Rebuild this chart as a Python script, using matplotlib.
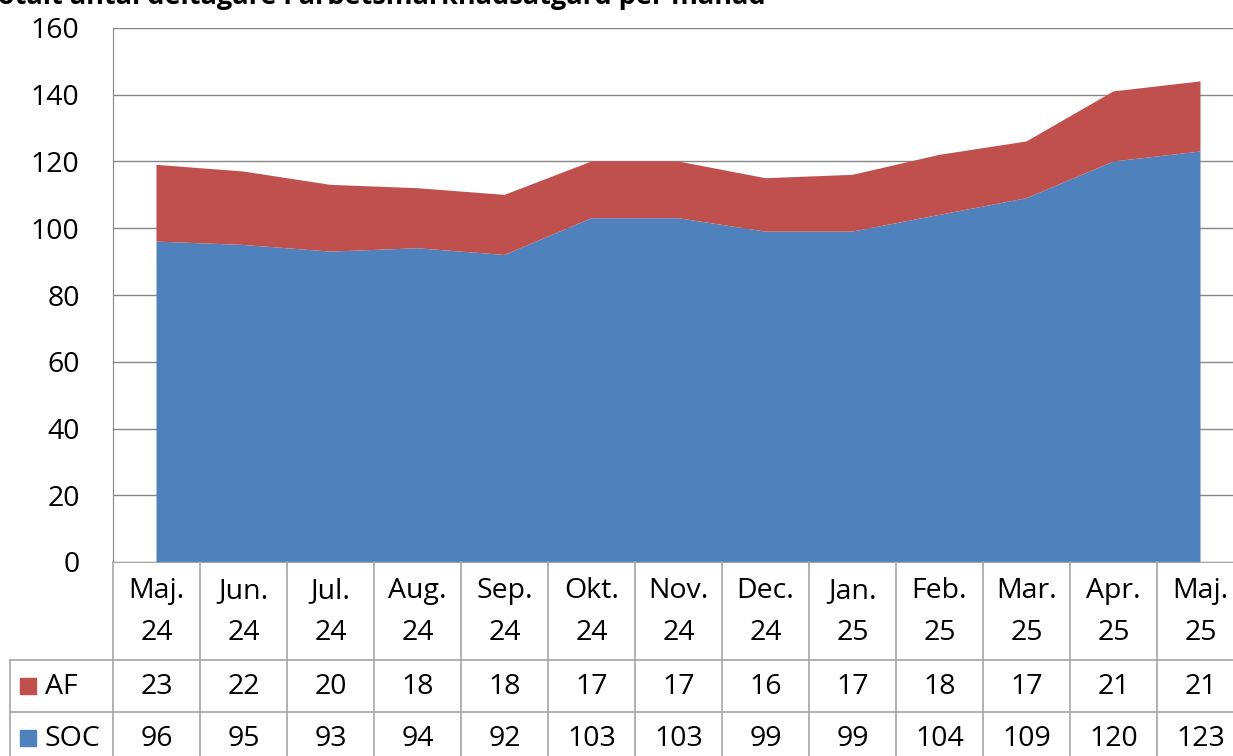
import numpy as np
import matplotlib.pyplot as plt
import matplotlib.transforms as mtransforms
from matplotlib.patches import Rectangle

plt.rcParams['font.family'] = ['Open Sans', 'DejaVu Sans']

months = ['Maj.', 'Jun.', 'Jul.', 'Aug.', 'Sep.', 'Okt.', 'Nov.', 'Dec.', 'Jan.', 'Feb.', 'Mar.', 'Apr.', 'Maj.']
years = ['24', '24', '24', '24', '24', '24', '24', '24', '25', '25', '25', '25', '25']
soc = [96, 95, 93, 94, 92, 103, 103, 99, 99, 104, 109, 120, 123]
af = [23, 22, 20, 18, 18, 17, 17, 16, 17, 18, 17, 21, 21]
title = 'Totalt antal deltagare i arbetsmarknadsåtgärd per månad'

blue = '#4F81BD'
red = '#C0504D'
grid_c = '#868686'
tab_c = '#A6A6A6'
fs = 20.5

W, H = 1233, 756
fig = plt.figure(figsize=(W / 100, H / 100), dpi=100)
ax = fig.add_axes([113 / W, 1 - 562 / H, (1244 - 113) / W, (562 - 28) / H])

x = np.arange(len(months))
ax.stackplot(x, soc, af, colors=[blue, red], linewidth=0)
ax.set_xlim(-0.5, len(months) - 0.5)
ax.set_ylim(0, 160)
ax.set_yticks(range(0, 161, 20))
ax.tick_params(axis='y', labelsize=fs, length=0, pad=24)
ax.set_xticks([])
ax.grid(axis='y', color=grid_c, linewidth=1)
ax.set_axisbelow(True)
for s in ['top', 'right']:
    ax.spines[s].set_visible(False)
ax.spines['left'].set_color(grid_c)
ax.spines['bottom'].set_color(tab_c)

# data table under the chart
trans = mtransforms.blended_transform_factory(ax.transData, ax.transAxes)
ph = 562 - 28
def yf(py):
    return (562 - py) / ph

y_hdr = yf(660)
y_af = yf(712)
y_soc = yf(770)
for i in range(len(months) + 1):
    ax.plot([i - 0.5, i - 0.5], [0, y_soc], transform=trans, color=tab_c, lw=1.2, clip_on=False)
left_px = 10
xl = -0.5 - (113 - left_px) / ((1244 - 113) / len(months))
ax.plot([xl, len(months) - 0.5], [y_hdr, y_hdr], transform=trans, color=tab_c, lw=1.2, clip_on=False)
ax.plot([xl, len(months) - 0.5], [y_af, y_af], transform=trans, color=tab_c, lw=1.2, clip_on=False)
ax.plot([xl, xl], [y_hdr, y_soc], transform=trans, color=tab_c, lw=1.2, clip_on=False)

for i in range(len(months)):
    ax.text(i, yf(591), months[i], transform=trans, ha='center', va='center', fontsize=fs)
    ax.text(i, yf(633), years[i], transform=trans, ha='center', va='center', fontsize=fs)
    ax.text(i, yf(687), str(af[i]), transform=trans, ha='center', va='center', fontsize=fs)
    ax.text(i, yf(739), str(soc[i]), transform=trans, ha='center', va='center', fontsize=fs)

for label, col, py in [('AF', red, 687), ('SOC', blue, 739)]:
    fig.patches.append(Rectangle((20 / W, 1 - (py + 7) / H), 16 / W, 16 / H,
                                 transform=fig.transFigure, color=col))
    fig.text(45 / W, 1 - py / H, label, ha='left', va='center', fontsize=fs)

fig.text(-16 / W, 1 + 4 / H, title, ha='left', va='center', fontsize=19.5, fontweight='bold')

fig.savefig('out.png', dpi=100)
